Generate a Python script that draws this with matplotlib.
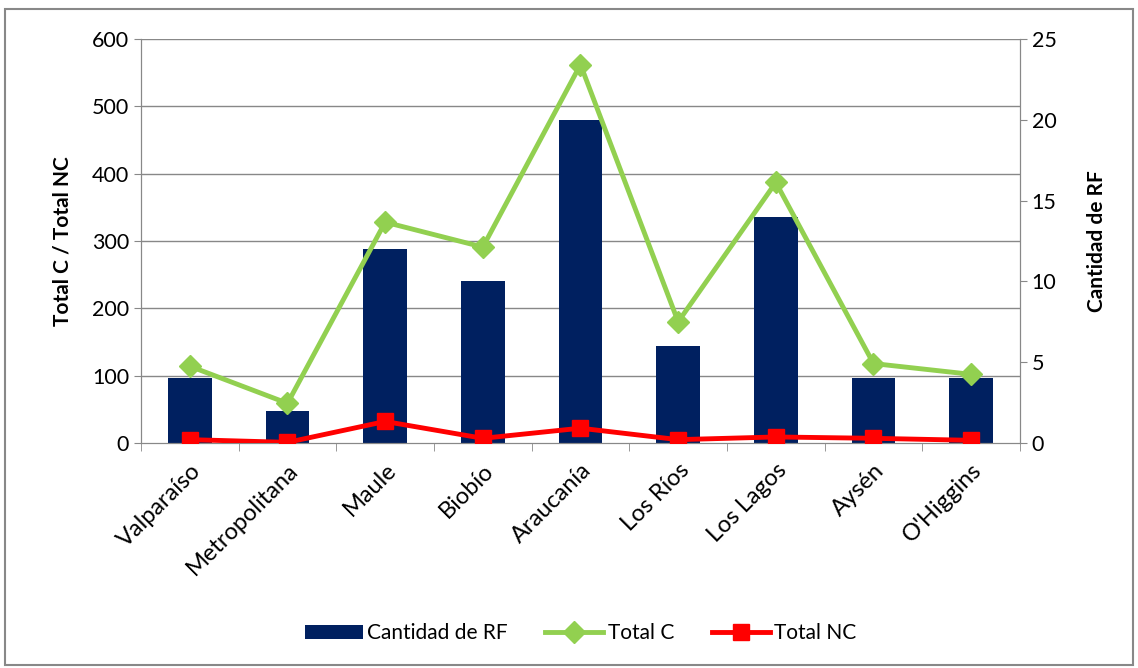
import numpy as np
import matplotlib.pyplot as plt
from matplotlib.patches import Rectangle

plt.rcParams['font.family'] = ['Lato', 'DejaVu Sans']

regiones = ["Valparaíso", "Metropolitana", "Maule", "Biobío", "Araucanía",
            "Los Ríos", "Los Lagos", "Aysén", "O'Higgins"]
cantidad_rf = [4, 2, 12, 10, 20, 6, 14, 4, 4]
total_c = [114, 59, 328, 291, 562, 180, 387, 118, 102]
total_nc = [5, 1, 32, 7, 22, 5, 9, 7, 4]

fig = plt.figure(figsize=(11.38, 6.68), dpi=100)
ax = fig.add_axes([0.1239, 0.3368, 0.7724, 0.6048])
ax2 = ax.twinx()

x = np.arange(len(regiones))

#bars go on the right axis
bars = ax2.bar(x, cantidad_rf, width=0.45, color='#002060', label='Cantidad de RF', zorder=2)
l1, = ax.plot(x, total_c, color='#92D050', lw=3.5, marker='D', ms=11, label='Total C', zorder=5)
l2, = ax.plot(x, total_nc, color='#FF0000', lw=3.5, marker='s', ms=11, label='Total NC', zorder=5)

# lines above bars
ax.set_zorder(ax2.get_zorder() + 1)
ax.patch.set_visible(False)

ax.set_xlim(-0.5, len(regiones) - 0.5)
ax.set_ylim(0, 600)
ax2.set_ylim(0, 25)
ax.set_yticks(np.arange(0, 601, 100))
ax2.set_yticks(np.arange(0, 26, 5))

ax2.yaxis.grid(False)
for yv in np.arange(100, 601, 100):
    ax2.axhline(yv / 24, color='#888888', lw=1, zorder=0)

ax.set_xticks(x)
ax.set_xticklabels(regiones, rotation=45, ha='right', rotation_mode='anchor', fontsize=17)
ax.set_xticks(np.arange(-0.5, len(regiones), 1), minor=True)
ax.tick_params(axis='x', which='major', length=0, pad=12)
ax.tick_params(axis='x', which='minor', length=6, color='#888888')
ax.tick_params(axis='y', labelsize=15.5, length=5, color='#888888')
ax2.tick_params(axis='y', labelsize=15.5, length=5, color='#888888')

for a in (ax, ax2):
    for s in ['top']:
        a.spines[s].set_visible(False)
    for s in ['left', 'right', 'bottom']:
        a.spines[s].set_color('#888888')

ax.set_ylabel('Total C / Total NC', fontsize=15, fontweight='bold', labelpad=14)
ax2.set_ylabel('Cantidad de RF', fontsize=15, fontweight='bold', labelpad=22)

fig.legend(handles=[bars, l1, l2], loc='center', bbox_to_anchor=(0.51, 0.052),
           ncol=3, frameon=False, fontsize=15, handlelength=2.8, columnspacing=1.8,
           handletextpad=0.2)

fig.patches.append(Rectangle((0.004, 0.004), 0.992, 0.983, transform=fig.transFigure,
                             fill=False, edgecolor='#888888', lw=1.5))

plt.savefig('out.png')
